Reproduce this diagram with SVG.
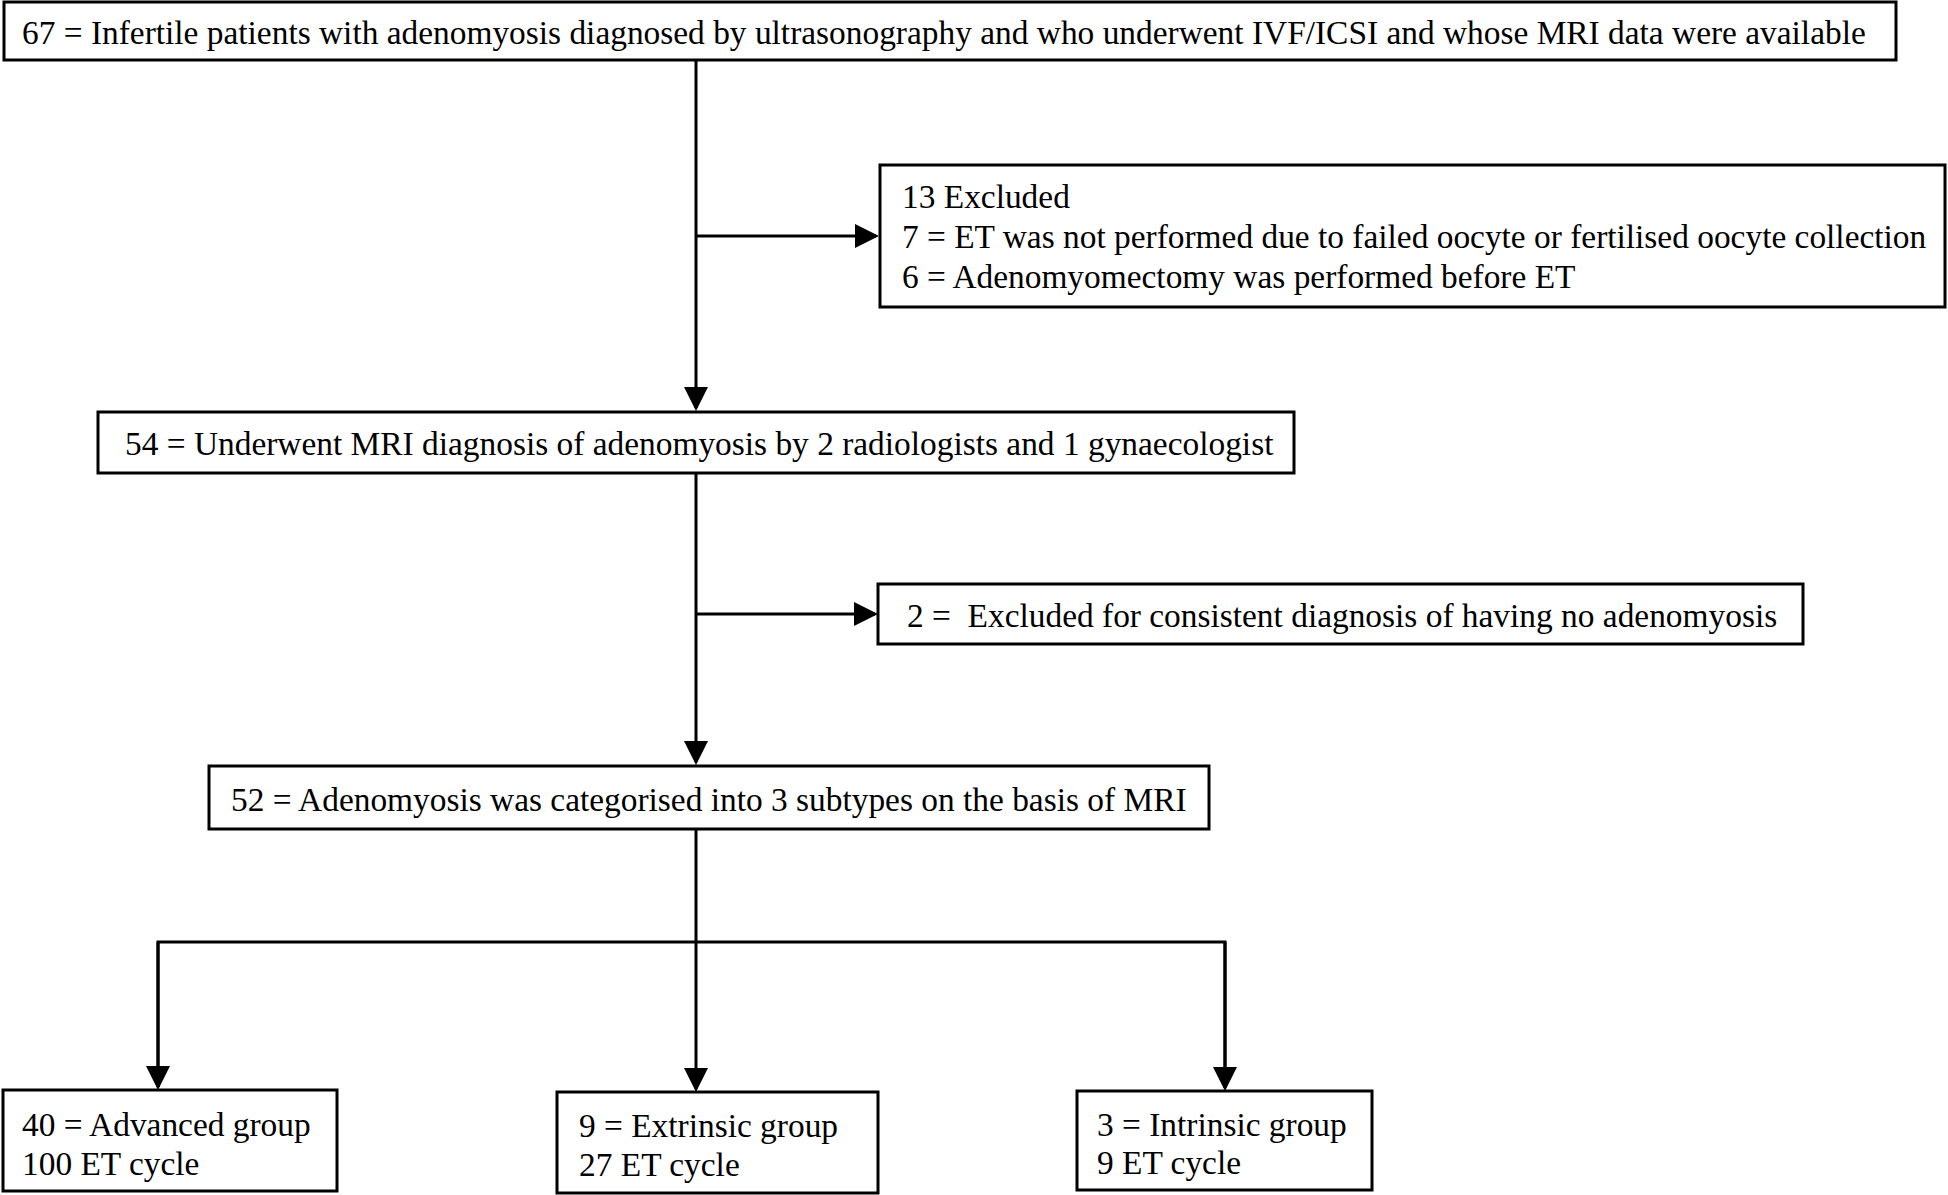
<svg xmlns="http://www.w3.org/2000/svg" width="1948" height="1195" viewBox="0 0 1948 1195">
<style>
.box{fill:#fff;stroke:#000;stroke-width:3}
.t{font-family:"Liberation Serif","Times New Roman",serif;font-size:33.4px;fill:#000}
.c{fill:none;stroke:#000;stroke-width:3}
</style>
<defs>
<marker id="ah" markerWidth="8" markerHeight="8" refX="7" refY="4" orient="auto" markerUnits="strokeWidth">
<path d="M0,0 L8,4 L0,8 Z" fill="#000"/>
</marker>
</defs>
<rect width="1948" height="1195" fill="#fff"/>
<g id="connectors">
<line class="c" x1="696" y1="60" x2="696" y2="408" marker-end="url(#ah)"/>
<line class="c" x1="696" y1="236" x2="876" y2="236" marker-end="url(#ah)"/>
<line class="c" x1="696" y1="473" x2="696" y2="762" marker-end="url(#ah)"/>
<line class="c" x1="696" y1="614" x2="875" y2="614" marker-end="url(#ah)"/>
<line class="c" x1="696" y1="829" x2="696" y2="942"/>
<polyline class="c" points="158,1087 158,942 1225,942 1225,1087"/>
<line class="c" x1="158" y1="942" x2="158" y2="1087" marker-end="url(#ah)"/>
<line class="c" x1="696" y1="942" x2="696" y2="1089" marker-end="url(#ah)"/>
<line class="c" x1="1225" y1="942" x2="1225" y2="1088" marker-end="url(#ah)"/>
</g>
<g id="n1"><rect class="box" x="4" y="2" width="1892" height="58"/>
<text class="t" x="22" y="44">67 = Infertile patients with adenomyosis diagnosed by ultrasonography and who underwent IVF/ICSI and whose MRI data were available</text></g>
<g id="n2"><rect class="box" x="880" y="165" width="1065" height="142"/>
<text class="t" x="902" y="208">13 Excluded</text>
<text class="t" x="902" y="248">7 = ET was not performed due to failed oocyte or fertilised oocyte collection</text>
<text class="t" x="902" y="288">6 = Adenomyomectomy was performed before ET</text></g>
<g id="n3"><rect class="box" x="98" y="412" width="1196" height="61"/>
<text class="t" x="125" y="455">54 = Underwent MRI diagnosis of adenomyosis by 2 radiologists and 1 gynaecologist</text></g>
<g id="n4"><rect class="box" x="878" y="584" width="925" height="60"/>
<text class="t" x="907" y="627" xml:space="preserve">2 =  Excluded for consistent diagnosis of having no adenomyosis</text></g>
<g id="n5"><rect class="box" x="209" y="766" width="1000" height="63"/>
<text class="t" x="231" y="811">52 = Adenomyosis was categorised into 3 subtypes on the basis of MRI</text></g>
<g id="n6"><rect class="box" x="3" y="1090" width="334" height="101"/>
<text class="t" x="22" y="1136">40 = Advanced group</text>
<text class="t" x="22" y="1175">100 ET cycle</text></g>
<g id="n7"><rect class="box" x="557" y="1092" width="321" height="101"/>
<text class="t" x="579" y="1137">9 = Extrinsic group</text>
<text class="t" x="579" y="1176">27 ET cycle</text></g>
<g id="n8"><rect class="box" x="1077" y="1091" width="295" height="99"/>
<text class="t" x="1097" y="1136">3 = Intrinsic group</text>
<text class="t" x="1097" y="1174">9 ET cycle</text></g>
</svg>
